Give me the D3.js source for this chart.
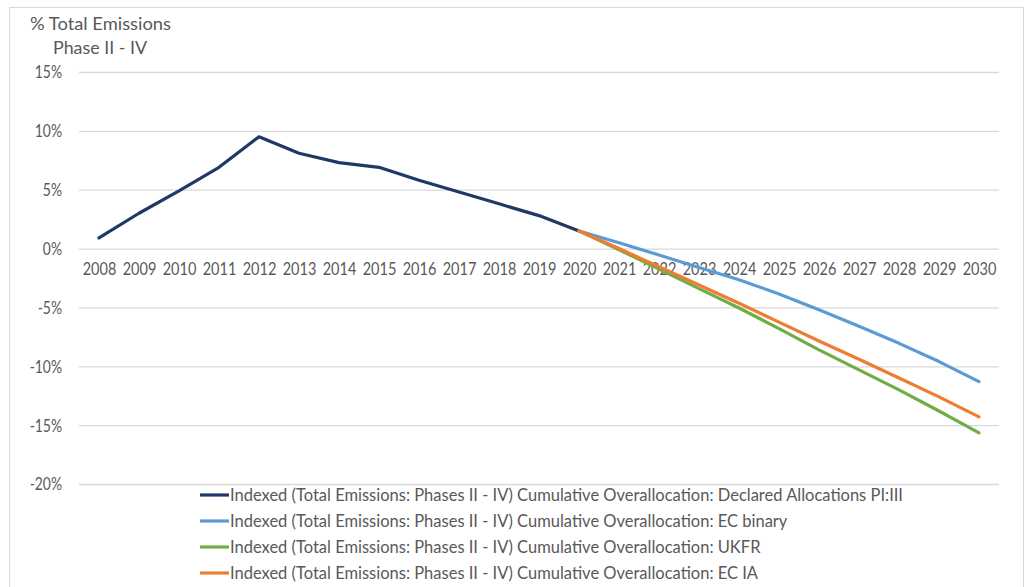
<!DOCTYPE html>
<html><head><meta charset="utf-8">
<script src="https://cdn.jsdelivr.net/npm/d3@7"></script>
<style>
body{margin:0;background:#fff}
text{font-family:Lato,'Open Sans',sans-serif;fill:#595959}
</style>
</head><body>
<svg id="c" width="1026" height="587"></svg>
<script>
const years = ["2008","2009","2010","2011","2012","2013","2014","2015","2016","2017","2018","2019","2020","2021","2022","2023","2024","2025","2026","2027","2028","2029","2030"];
const declared = [0.9,3.0,4.9,6.9,9.5,8.1,7.3,6.9,5.8,4.8,3.8,2.8,1.5,null,null,null,null,null,null,null,null,null,null];
const ecBinary = [null,null,null,null,null,null,null,null,null,null,null,null,1.5,0.5,-0.55,-1.6,-2.65,-3.85,-5.2,-6.6,-8.05,-9.6,-11.3];
const ukfr     = [null,null,null,null,null,null,null,null,null,null,null,null,1.5,-0.1,-1.75,-3.4,-5.05,-6.8,-8.6,-10.3,-12.0,-13.8,-15.65];
const ecIA     = [null,null,null,null,null,null,null,null,null,null,null,null,1.5,0.0,-1.55,-3.1,-4.65,-6.25,-7.85,-9.4,-11.0,-12.6,-14.3];
const yTicks = [-20,-15,-10,-5,0,5,10,15];
const seriesNames = [
  "Indexed (Total Emissions: Phases II - IV) Cumulative Overallocation: Declared Allocations PI:III",
  "Indexed (Total Emissions: Phases II - IV) Cumulative Overallocation: EC binary",
  "Indexed (Total Emissions: Phases II - IV) Cumulative Overallocation: UKFR",
  "Indexed (Total Emissions: Phases II - IV) Cumulative Overallocation: EC IA"
];
const seriesColors = ["#203864","#5B9BD5","#70AD47","#ED7D31"];
const seriesData = [declared, ecBinary, ukfr, ecIA];

const svg = d3.select("#c");
svg.append("rect").attr("x",9.5).attr("y",7.5).attr("width",1014).attr("height",600)
  .attr("fill","#fff").attr("stroke","#d9d9d9").attr("stroke-width",1);

// compress glyphs horizontally to mimic a narrow (Calibri-like) face
function squeeze(sel, size, ratio){
  sel.style("font-size",size+"px");
  const l = sel.node().getComputedTextLength();
  sel.attr("textLength", l*ratio).attr("lengthAdjust","spacingAndGlyphs");
  return l;
}

const x = d3.scalePoint().domain(years).range([99,979]);
const y = d3.scaleLinear().domain([-20,15]).range([484,72]);

// gridlines + y labels
const ya = svg.append("g").attr("transform","translate(79,0)")
  .call(d3.axisLeft(y).tickValues(yTicks).tickSize(-920).tickPadding(17)
    .tickFormat(d=>d+"%"));
ya.select(".domain").remove();
ya.selectAll("line").attr("stroke","#d9d9d9").attr("stroke-width",1.3);
ya.selectAll("text").attr("fill","#595959").attr("dy","0.36em").each(function(){ squeeze(d3.select(this),16.5,0.84); });

// x labels
const xa = svg.append("g").attr("transform",`translate(0,${y(0)})`)
  .call(d3.axisBottom(x).tickSize(0).tickPadding(15));
xa.select(".domain").remove();
xa.selectAll("text").attr("fill","#595959").each(function(){ squeeze(d3.select(this),16.5,0.88); });

// lines
const line = d3.line().defined(d=>d!=null).x((d,i)=>x(years[i])).y(d=>y(d));
[1,2,3,0].forEach(k=>{
  svg.append("path").datum(seriesData[k]).attr("fill","none")
    .attr("stroke",seriesColors[k]).attr("stroke-width",3.2)
    .attr("stroke-linejoin","round").attr("stroke-linecap","round")
    .attr("d",line);
});
svg.selectAll("path").filter(function(){return this.getAttribute("stroke")==="#70AD47";}).raise();
svg.selectAll("path").filter(function(){return this.getAttribute("stroke")==="#ED7D31";}).raise();

// title
const t1 = svg.append("text").attr("x",30).attr("y",30).text("% Total Emissions");
t1.style("font-size","18px").attr("textLength",141).attr("lengthAdjust","spacingAndGlyphs");
const t2 = svg.append("text").attr("x",53).attr("y",54).text("Phase II - IV");
t2.style("font-size","18px").attr("textLength",94).attr("lengthAdjust","spacingAndGlyphs");

// legend
const legY = [495,521,547,573];
let legRatio = null;
seriesNames.forEach((n,i)=>{
  const g = svg.append("g");
  g.append("line").attr("x1",200).attr("x2",229).attr("y1",legY[i]).attr("y2",legY[i])
    .attr("stroke",seriesColors[i]).attr("stroke-width",3.2);
  const t = g.append("text").attr("x",230).attr("y",legY[i]).attr("dy","0.36em").text(n);
  t.style("font-size","16.5px");
  const l = t.node().getComputedTextLength();
  if(legRatio===null) legRatio = 673/l;
  t.attr("textLength", l*legRatio).attr("lengthAdjust","spacingAndGlyphs");
});
</script>
</body></html>
